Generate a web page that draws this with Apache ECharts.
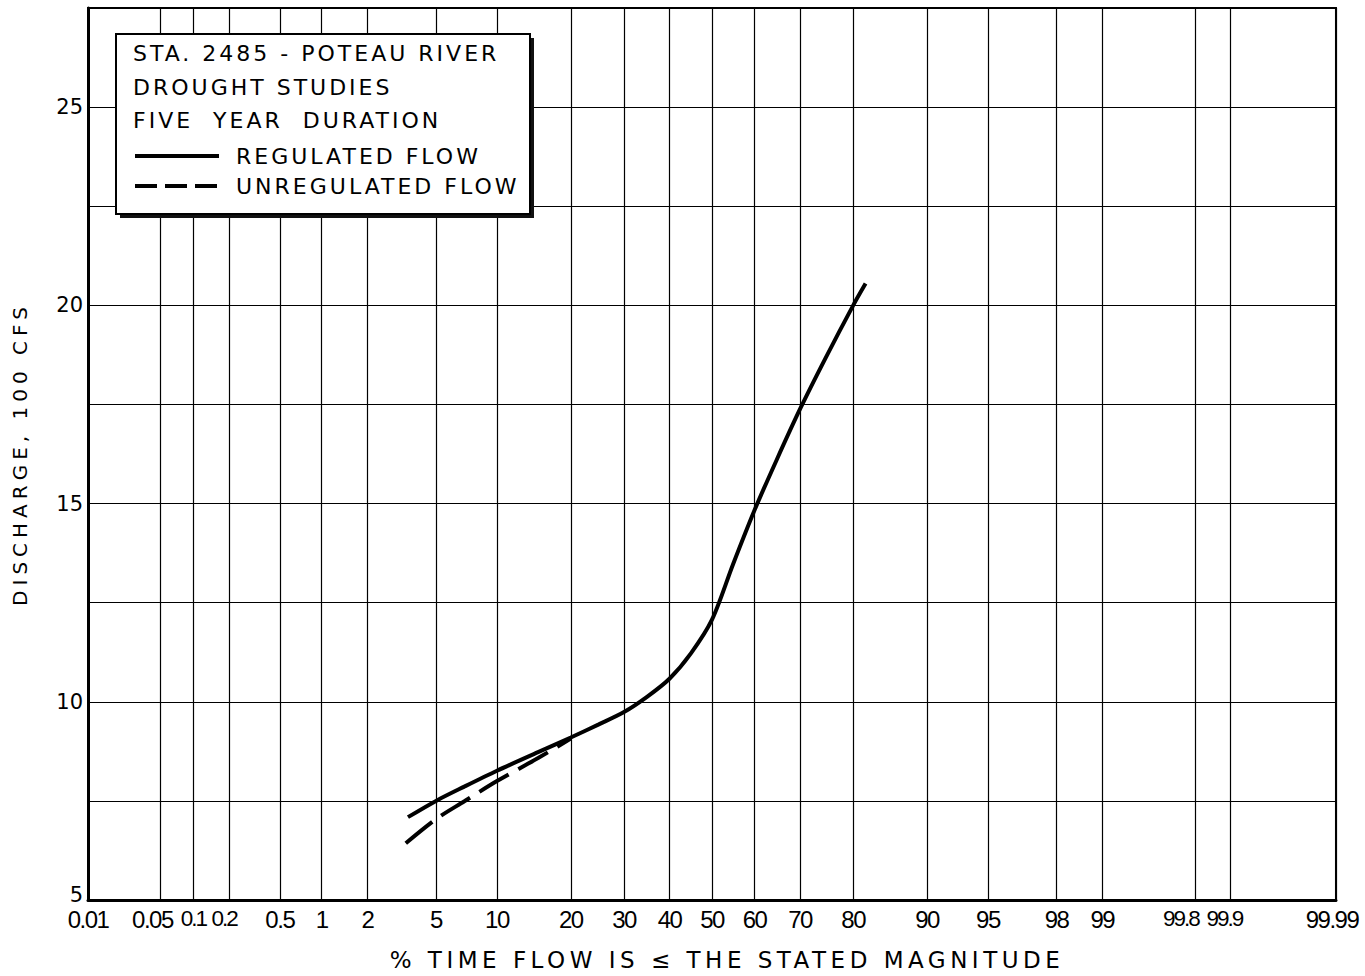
<!DOCTYPE html>
<html><head><meta charset="utf-8">
<script src="https://cdn.jsdelivr.net/npm/echarts@6/dist/echarts.min.js"></script>
<style>
html,body{margin:0;padding:0;background:#fff}
#c{width:1365px;height:976px}
/* hand-lettered look: widen letter spacing of box text and axis names, tighten tick digits */
#c svg text[style*="22px"]{letter-spacing:3px}
#c svg text[style*="23px"]{letter-spacing:4.5px}
#c svg text[style*="20px"]{letter-spacing:5px}
#c svg text[style*="24px"]{letter-spacing:-1.5px}
#c svg text[style*="22.5px"]{letter-spacing:-2px}
</style>
</head><body><div id="c"></div>
<script>
// Probability-scale tick positions (percent) and their labels
const tickPercents = [0.01,0.05,0.1,0.2,0.5,1,2,5,10,20,30,40,50,60,70,80,90,95,98,99,99.8,99.9,99.99];
const tickLabels = ['0.01','0.05','0.1','0.2','0.5','1','2','5','10','20','30','40','50','60','70','80','90','95','98','99','99.8','99.9','99.99'];
// Regulated flow: % time vs discharge (100 cfs)
const regulatedPct = [3.5,5,7,10,15,20,25,30,35,40,45,50,55,60,65,70,75,80,82];
const regulatedQ   = [7.09,7.5,7.86,8.26,8.73,9.1,9.43,9.74,10.13,10.58,11.22,12.07,13.47,14.83,16.1,17.38,18.65,20.0,20.55];
// Unregulated flow
const unregulatedPct = [3.4,5,7,10,15,20];
const unregulatedQ   = [6.43,7.04,7.49,8.0,8.58,9.07];
const yLabelValues = [5,10,15,20,25];
const legendTitleLines = ['STA. 2485 - POTEAU RIVER','DROUGHT STUDIES','FIVE  YEAR  DURATION'];
const seriesNames = ['REGULATED FLOW','UNREGULATED FLOW'];
// small label nudges (style only), keyed by label text
const labelNudge = {'0.05':'l8','0.1':'s0','0.2':'s5','99.8':'s14','99.9':'s6','99.99':'l4'};

// inverse normal CDF (probability axis transform)
function probit(p){
 const a=[-3.969683028665376e+01,2.209460984245205e+02,-2.759285104469687e+02,1.383577518672690e+02,-3.066479806614716e+01,2.506628277459239e+00];
 const b=[-5.447609879822406e+01,1.615858368580409e+02,-1.556989798598866e+02,6.680131188771972e+01,-1.328068155288572e+01];
 const c=[-7.784894002430293e-03,-3.223964580411365e-01,-2.400758277161838e+00,-2.549732539343734e+00,4.374664141464968e+00,2.938163982698783e+00];
 const d=[7.784695709041462e-03,3.224671290700398e-01,2.445134137142996e+00,3.754408661907416e+00];
 const pl=0.02425, ph=1-pl; let q,r;
 if(p<pl){q=Math.sqrt(-2*Math.log(p));return (((((c[0]*q+c[1])*q+c[2])*q+c[3])*q+c[4])*q+c[5])/((((d[0]*q+d[1])*q+d[2])*q+d[3])*q+1);}
 if(p<=ph){q=p-0.5;r=q*q;return (((((a[0]*r+a[1])*r+a[2])*r+a[3])*r+a[4])*r+a[5])*q/(((((b[0]*r+b[1])*r+b[2])*r+b[3])*r+b[4])*r+1);}
 q=Math.sqrt(-2*Math.log(1-p));return -(((((c[0]*q+c[1])*q+c[2])*q+c[3])*q+c[4])*q+c[5])/((((d[0]*q+d[1])*q+d[2])*q+d[3])*q+1);
}
const zOf = pct => probit(pct/100);
const tickZ = tickPercents.map(zOf);
const xMin = tickZ[0], xMax = tickZ[tickZ.length-1];

const font = "DejaVu Sans";
const tickFont = "Liberation Sans";
const rich = {
  n:{fontFamily:tickFont,fontSize:24,color:'#000'},
  l4:{fontFamily:tickFont,fontSize:24,color:'#000',padding:[0,8,0,0]},
  l8:{fontFamily:tickFont,fontSize:24,color:'#000',padding:[0,15,0,0]},
  s0:{fontFamily:tickFont,fontSize:22.5,color:'#000'},
  s5:{fontFamily:tickFont,fontSize:22.5,color:'#000',padding:[0,10,0,0]},
  s14:{fontFamily:tickFont,fontSize:22.5,color:'#000',padding:[0,28,0,0]},
  s6:{fontFamily:tickFont,fontSize:22.5,color:'#000',padding:[0,12,0,0]}
};
const chart = echarts.init(document.getElementById('c'), null, {renderer:'svg'});
chart.setOption({
  animation:false,
  backgroundColor:'#fff',
  grid:{left:88,right:29,top:8,bottom:73,show:true,borderColor:'#000',borderWidth:2,containLabel:false},
  title:{
    text: legendTitleLines.join('\n'),
    left:128, top:32, z:20,
    textStyle:{fontFamily:font,fontSize:22,fontWeight:'normal',color:'#000',lineHeight:33.5}
  },
  legend:{
    data:[
      {name:seriesNames[0], lineStyle:{type:'solid'}},
      {name:seriesNames[1], lineStyle:{type:[22,8]}}
    ],
    orient:'vertical', left:128, top:140, z:20,
    itemWidth:84, itemHeight:4, itemGap:8,
    lineStyle:{width:4},
    textStyle:{fontFamily:font,fontSize:22,color:'#000',padding:[0,0,0,12]},
    inactiveColor:'#000'
  },
  graphic:[
    {type:'rect', z:10, shape:{x:120,y:38,width:414,height:180}, style:{fill:'#111'}},
    {type:'rect', z:11, shape:{x:116,y:34,width:414,height:180}, style:{fill:'#fff',stroke:'#000',lineWidth:2}}
  ],
  xAxis:{
    type:'value', min:xMin, max:xMax,
    name:'% TIME FLOW IS \u2264 THE STATED MAGNITUDE',
    nameLocation:'middle', nameGap:48,
    nameTextStyle:{fontFamily:font,fontSize:23,color:'#000',padding:[0,0,0,30]},
    axisLine:{show:true,onZero:false,lineStyle:{color:'#000',width:3}},
    axisTick:{show:false,customValues:tickZ},
    axisLabel:{customValues:tickZ,color:'#000',margin:7,rich:rich,
      formatter:function(v){for(let i=0;i<tickZ.length;i++){if(Math.abs(tickZ[i]-v)<1e-6){const t=tickLabels[i];return '{'+(labelNudge[t]||'n')+'|'+t+'}';}}return '';}},
    splitLine:{show:true,lineStyle:{color:'#000',width:1.2}}
  },
  yAxis:{
    type:'value', min:5, max:27.5, interval:2.5,
    name:'DISCHARGE, 100 CFS', nameLocation:'middle', nameGap:58, nameRotate:90,
    nameTextStyle:{fontFamily:font,fontSize:20,color:'#000'},
    axisLine:{show:true,onZero:false,lineStyle:{color:'#000',width:3}},
    axisTick:{show:false},
    axisLabel:{fontFamily:font,fontSize:21,color:'#000',margin:5,
      rich:{up:{fontFamily:font,fontSize:21,color:'#000',padding:[0,0,10,0]}},
      formatter:function(v){if(yLabelValues.indexOf(v)<0)return ''; return v===yLabelValues[0]?'{up|'+v+'}':String(v);}},
    splitLine:{show:true,lineStyle:{color:'#000',width:1.2}}
  },
  series:[
    {name:seriesNames[0], type:'line', smooth:0.3, symbol:'none', z:5,
     lineStyle:{color:'#000',width:4,type:'solid'}, itemStyle:{color:'#000'},
     data: regulatedPct.map((p,i)=>[zOf(p),regulatedQ[i]])},
    {name:seriesNames[1], type:'line', smooth:0.3, symbol:'none', z:5,
     lineStyle:{color:'#000',width:4,type:[34,11]}, itemStyle:{color:'#000'},
     data: unregulatedPct.map((p,i)=>[zOf(p),unregulatedQ[i]])}
  ]
});
</script></body></html>
